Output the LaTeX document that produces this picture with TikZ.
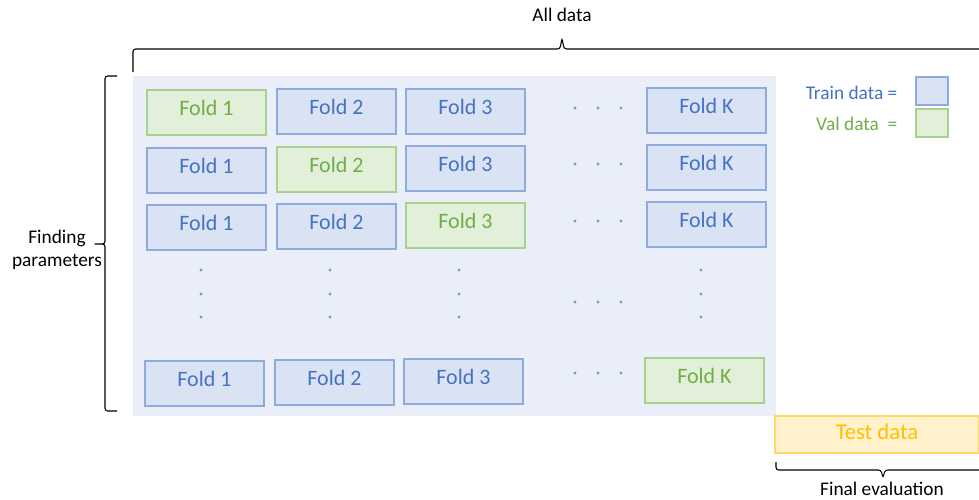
\documentclass[tikz,border=0pt]{standalone}
\usepackage{fontspec}
\setmainfont{Carlito}
\usetikzlibrary{positioning}
\definecolor{allfill}{HTML}{E9EEF8}
\definecolor{trainfill}{HTML}{DAE3F3}
\definecolor{trainline}{HTML}{8FAADC}
\definecolor{traintext}{HTML}{4472C4}
\definecolor{valfill}{HTML}{E2F0D9}
\definecolor{valline}{HTML}{A9D18E}
\definecolor{valtext}{HTML}{70AD47}
\definecolor{testfill}{HTML}{FFF2CC}
\definecolor{testline}{HTML}{FFD966}
\definecolor{testtext}{HTML}{FFC000}
\definecolor{dotcolor}{HTML}{7C9BD6}
\tikzset{
    fold/.style={rectangle,line width=1.2pt,minimum width=89pt,minimum height=33.75pt,
        font=\fontsize{16.5}{19}\selectfont,text height=10pt,text depth=6pt,inner sep=0pt},
    train/.style={fold,draw=trainline,fill=trainfill,text=traintext},
    val/.style={fold,draw=valline,fill=valfill,text=valtext},
    key/.style={rectangle,line width=1.2pt,minimum width=24pt,minimum height=21pt,inner sep=0pt},
    dot/.style={fill=dotcolor},
    bracket/.style={black,line width=0.8pt,rounded corners=2pt},
    caption/.style={font=\fontsize{14.5}{17.5}\selectfont,align=center}
}

\begin{document}
\begin{tikzpicture}[x=0.75pt,y=-0.75pt]
    \useasboundingbox (0,0) rectangle (979,500);

    % all data
    \fill[allfill] (133,76) rectangle (776,416);

    % round 1
    \node[val]   (a1) at (206.5,112.5) {Fold 1};
    \node[train] (a2) at (336.5,111.5) {Fold 2};
    \node[train] (a3) at (465.5,111.5) {Fold 3};
    \node[train] (aK) at (706.5,110.5) {Fold K};

    % round 2
    \node[train] (b1) at (206.5,170.5) {Fold 1};
    \node[val]   (b2) at (336.5,169.5) {Fold 2};
    \node[train] (b3) at (465.5,168.5) {Fold 3};
    \node[train] (bK) at (706.5,167.5) {Fold K};

    % round 3
    \node[train] (c1) at (206.5,227.5) {Fold 1};
    \node[train] (c2) at (336.5,226.5) {Fold 2};
    \node[val]   (c3) at (465.5,225.5) {Fold 3};
    \node[train] (cK) at (706.5,224.5) {Fold K};

    % round K
    \node[train] (k1) at (204.5,383.5) {Fold 1};
    \node[train] (k2) at (334.5,382.5) {Fold 2};
    \node[train] (k3) at (463.5,381.5) {Fold 3};
    \node[val]   (kK) at (704.5,380.5) {Fold K};

    % dots
    \foreach \y in {108,164,221,302,373}
        \foreach \x in {575,598,621}
            \fill[dot] (\x,\y) circle[radius=1.3pt];
    \foreach \x in {201,330,459,701}
        \foreach \y in {270,294,317}
            \fill[dot] (\x,\y) circle[radius=1.3pt];

    % legend
    \node[key,draw=trainline,fill=trainfill] (trainkey) at (932,91) {};
    \node[key,draw=valline,fill=valfill]     (valkey)   at (932,123) {};
    \node[caption,text=traintext,anchor=east] (trainlabel) at (902,93) {Train data =};
    \node[caption,text=valtext,anchor=east]   (vallabel)   at (902,124) {Val data\ \ =};

    % test data
    \node[fold,draw=testline,fill=testfill,text=testtext,minimum width=153pt,minimum height=27.75pt,
        font=\fontsize{17}{20}\selectfont,text depth=3pt]
        (test) at (877,434.5) {Test data};

    % braces
    \draw[bracket] (133,72) |- (560,49) -- (562,38) -- (564,49) -| (991,72);
    \node[caption] (alldata) at (562,15) {All data};

    \draw[bracket] (117,76) -| (105,244) -- (93,244) -- (105,244) |- (117,411);
    \node[caption] (finding) at (57,250) {Finding\\parameters};

    \draw[bracket] (776,462) |- (881,470) -- (883,478) -- (885,470) -| (990,462);
    \node[caption] (final) at (882,489) {Final evaluation};
\end{tikzpicture}
\end{document}
